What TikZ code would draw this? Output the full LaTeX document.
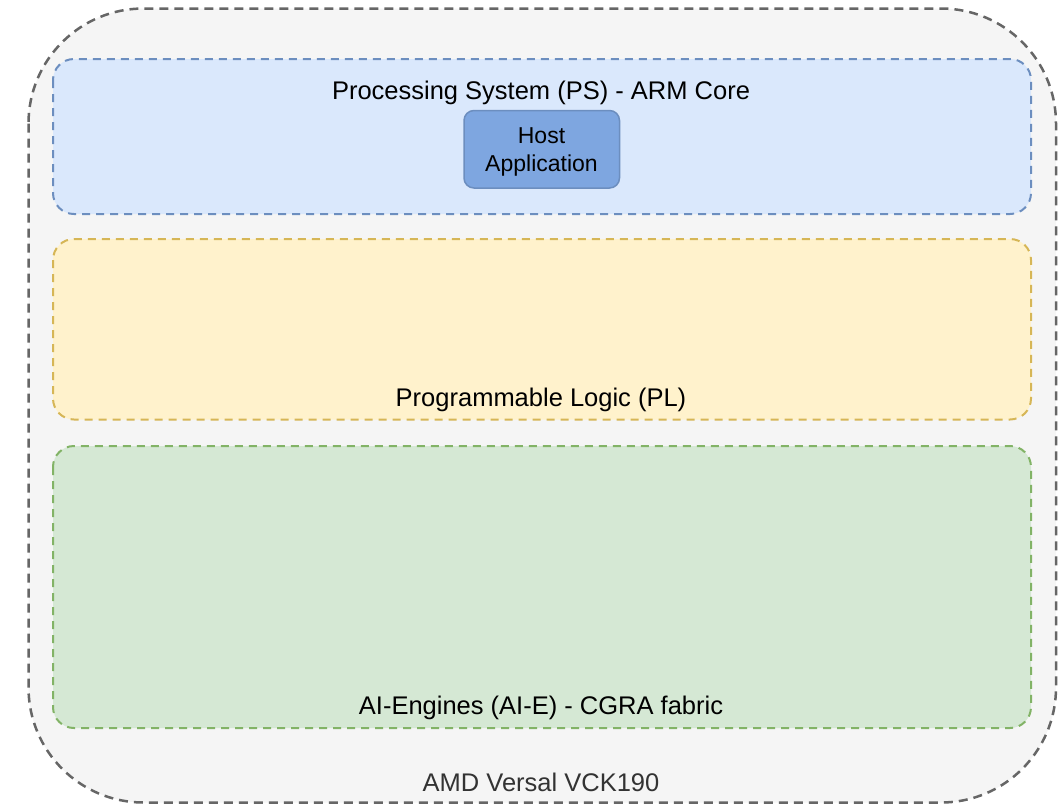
\documentclass[tikz,border=0pt]{standalone}
\usepackage{fontspec}
\setmainfont{Liberation Sans}
\usetikzlibrary{positioning}

\definecolor{boardfill}{HTML}{F5F5F5}
\definecolor{boardline}{HTML}{666666}
\definecolor{psfill}{HTML}{DAE8FC}
\definecolor{psline}{HTML}{6C8EBF}
\definecolor{plfill}{HTML}{FFF2CC}
\definecolor{plline}{HTML}{D6B656}
\definecolor{aiefill}{HTML}{D5E8D4}
\definecolor{aieline}{HTML}{82B366}
\definecolor{hostfill}{HTML}{7EA6E0}
\definecolor{labelgray}{HTML}{333333}

\tikzset{
  region/.style={line width=2pt, dash pattern=on 8pt off 6pt, rounded corners=21pt},
  lbl/.style={font=\fontsize{25.5}{28}\selectfont, inner sep=0pt, text=black},
}

\begin{document}
\begin{tikzpicture}[x=1pt, y=-1pt]
\useasboundingbox (0,0) rectangle (1059,804);

% tarjeta completa
\draw[line width=2.5pt, dash pattern=on 9pt off 6pt, rounded corners=115pt,
      draw=boardline, fill=boardfill] (28.5,8.5) rectangle (1056,802.5);
\node[lbl, text=labelgray] (board) at (541,782) {AMD Versal VCK190};

% PS: ARM
\draw[region, draw=psline, fill=psfill] (53,59) rectangle (1031,214);
\node[lbl] (ps) at (541,92.5) {Processing System (PS) - ARM Core};
\draw[line width=1.5pt, rounded corners=10pt, draw=psline, fill=hostfill]
      (464,110.5) rectangle (619.5,188);
\node[lbl, font=\fontsize{23}{28}\selectfont, align=center] (host) at (541.5,151.5)
      {Host\\Application};

% PL
\draw[region, draw=plline, fill=plfill] (53,239) rectangle (1031,419.5);
\node[lbl] (pl) at (541,399.5) {Programmable Logic (PL)};

% AI-E
\draw[region, draw=aieline, fill=aiefill] (53,446) rectangle (1031,728);
\node[lbl] (aie) at (541,707.5) {AI-Engines (AI-E) - CGRA fabric};
\end{tikzpicture}
\end{document}
